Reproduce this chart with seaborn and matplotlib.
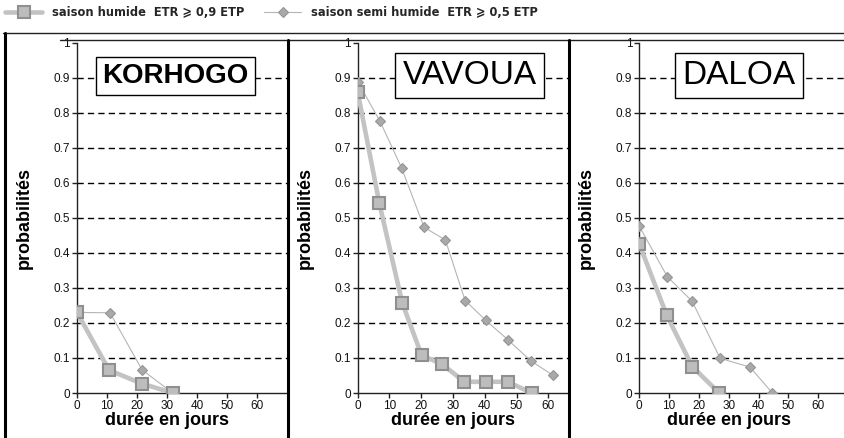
import matplotlib
matplotlib.use("Agg")
import matplotlib.pyplot as plt
import seaborn as sns
import numpy as np
from matplotlib.lines import Line2D
from matplotlib import font_manager as fm

# ---------------- data ----------------
stations = ["KORHOGO", "VAVOUA", "DALOA"]

kor_days_h = [0, 10.7, 21.6, 31.9]
kor_prob_h = [0.23, 0.065, 0.027, 0.0]
kor_days_s = [0, 11.0, 21.7, 31.9]
kor_prob_s = [0.23, 0.229, 0.066, 0.0]

vav_days_h = [0, 6.8, 14.0, 20.1, 26.6, 33.6, 40.4, 47.2, 54.8]
vav_prob_h = [0.859, 0.542, 0.258, 0.108, 0.082, 0.032, 0.032, 0.032, 0.0]
vav_days_s = [0, 7.0, 13.8, 20.9, 27.6, 33.8, 40.4, 47.4, 54.6, 61.4]
vav_prob_s = [0.889, 0.776, 0.643, 0.473, 0.437, 0.264, 0.207, 0.151, 0.091, 0.051]

dal_days_h = [0, 9.2, 17.8, 26.8]
dal_prob_h = [0.425, 0.222, 0.075, 0.0]
dal_days_s = [0, 9.4, 17.7, 27.1, 37.1, 44.6]
dal_prob_s = [0.476, 0.332, 0.262, 0.099, 0.074, 0.0]

x_ticks = [0, 10, 20, 30, 40, 50, 60]
y_ticks = [0, 0.1, 0.2, 0.3, 0.4, 0.5, 0.6, 0.7, 0.8, 0.9, 1]
y_tick_labels = ["0", "0.1", "0.2", "0.3", "0.4", "0.5", "0.6", "0.7", "0.8", "0.9", "1"]

label_h = "saison humide  ETR \u2a7e 0,9 ETP"
label_s = "saison semi humide  ETR \u2a7e 0,5 ETP"
xlabel = "durée en jours"
ylabel = "probabilités"

series = [
    (kor_days_h, kor_prob_h, kor_days_s, kor_prob_s),
    (vav_days_h, vav_prob_h, vav_days_s, vav_prob_s),
    (dal_days_h, dal_prob_h, dal_days_s, dal_prob_s),
]

# ---------------- layout (pixels) ----------------
W, H = 844, 438
sns.set_theme(style="white")
plt.rcParams["font.family"] = ["Liberation Sans", "DejaVu Sans"]

# pick a condensed bold font for the legend if one is installed
legend_prop = None
for fam in ["Liberation Sans Narrow", "DejaVu Sans", "Roboto", "Open Sans", "Noto Sans"]:
    try:
        fp = fm.FontProperties(family=fam, weight="bold", stretch="condensed")
        f = fm.findfont(fp, fallback_to_default=False)
        if "ondensed" in f or "Narrow" in f:
            legend_prop = dict(fname=f, size=9.2)
            break
    except Exception:
        pass
if legend_prop is None:
    legend_prop = dict(family=["Liberation Sans", "DejaVu Sans"], weight="bold", size=7.8)

fig = plt.figure(figsize=(W / 100, H / 100), dpi=100)
fig.patch.set_facecolor("white")

top_px, bot_px = 42.7, 393.0
panels = [  # left px, right px, xmax, title center x (data)
    (77.0, 287.0, 70.0, 32.8),
    (357.7, 568.0, 66.2, 35.2),
    (639.3, 849.0, 70.3, 33.4),
]
title_props = [
    dict(fontsize=20, fontweight="bold"),
    dict(fontsize=24, fontweight="normal"),
    dict(fontsize=24, fontweight="normal"),
]

c_h_line = "#c3c3c3"
c_h_face = "#bdbdbd"
c_h_edge = "#8f8f8f"
c_s_line = "#b5b5b5"
c_s_face = "#a9a9a9"
c_s_edge = "#959595"

axes = []
for i, (l, r, xmax, tx) in enumerate(panels):
    ax = fig.add_axes([l / W, 1 - bot_px / H, (r - l) / W, (bot_px - top_px) / H])
    ax.set_facecolor("none")
    dh, ph, ds, ps = series[i]
    sns.lineplot(x=ds, y=ps, ax=ax, sort=False, color=c_s_line, lw=0.8,
                 marker="D", markersize=5.5, markerfacecolor=c_s_face,
                 markeredgecolor=c_s_edge, markeredgewidth=0.8, legend=False,
                 label=label_s, zorder=3)
    sns.lineplot(x=dh, y=ph, ax=ax, sort=False, color=c_h_line, lw=3.3,
                 marker="s", markersize=8, markerfacecolor=c_h_face,
                 markeredgecolor=c_h_edge, markeredgewidth=1.5, legend=False,
                 label=label_h, zorder=4)
    ax.set_xlim(0, xmax)
    ax.set_ylim(0, 1)
    ax.set_xticks(x_ticks)
    ax.set_xticklabels([str(t) for t in x_ticks])
    ax.set_yticks(y_ticks)
    ax.set_yticklabels(y_tick_labels)
    for g in y_ticks[1:-1]:
        ax.axhline(g, color="black", lw=1.0, ls=(0, (4.5, 3)), zorder=1)
    ax.grid(False)
    for s in ["top", "right"]:
        ax.spines[s].set_visible(False)
    for s in ["left", "bottom"]:
        ax.spines[s].set_color("#222222")
        ax.spines[s].set_linewidth(1.0)
    ax.tick_params(axis="both", which="major", direction="out", length=3.5,
                   width=1.0, color="#222222", labelsize=8.5, labelcolor="#111111",
                   left=True, bottom=True, pad=1.5)
    ax.set_xlabel(xlabel, fontsize=13, fontweight="bold", color="black")
    ax.set_ylabel(ylabel, fontsize=13, fontweight="bold", color="black")
    ax.xaxis.set_label_coords(30 / xmax, -19 / (bot_px - top_px), transform=ax.transAxes)
    ax.yaxis.set_label_coords(-44 / (r - l), 0.5, transform=ax.transAxes)
    ax.text(tx, 0.906, stations[i], ha="center", va="center", color="black",
            bbox=dict(boxstyle="square,pad=0.22", facecolor="white",
                      edgecolor="black", lw=1.0), zorder=6, **title_props[i])
    axes.append(ax)

# frame lines (figure pixel coords)
def fx(x):
    return x / W

def fy(y):
    return 1 - y / H

fig.add_artist(Line2D([fx(3), fx(W)], [fy(33), fy(33)], color="#222222", lw=1.0))
fig.add_artist(Line2D([fx(60), fx(W)], [fy(40), fy(40)], color="#222222", lw=1.0))
for xv, y0 in [(4.5, 33), (287.5, 40), (568.5, 40)]:
    fig.add_artist(Line2D([fx(xv), fx(xv)], [fy(y0), fy(H)], color="black", lw=2.2))

# legend
handles = [
    Line2D([], [], color=c_h_line, lw=3.3, marker="s", markersize=8,
           markerfacecolor=c_h_face, markeredgecolor=c_h_edge, markeredgewidth=1.5),
    Line2D([], [], color=c_s_line, lw=0.8, marker="D", markersize=5.5,
           markerfacecolor=c_s_face, markeredgecolor=c_s_edge, markeredgewidth=0.8),
]
fs_px = legend_prop["size"] * 100 / 72
fig.legend(handles, [label_h, label_s], loc="center left",
           bbox_to_anchor=(fx(5), fy(13)), ncol=2, frameon=False,
           prop=legend_prop,
           handlelength=37 / fs_px, handletextpad=10 / fs_px,
           columnspacing=20 / fs_px, borderpad=0.0, borderaxespad=0.0)

fig.savefig("out.png", dpi=100, facecolor="white")
